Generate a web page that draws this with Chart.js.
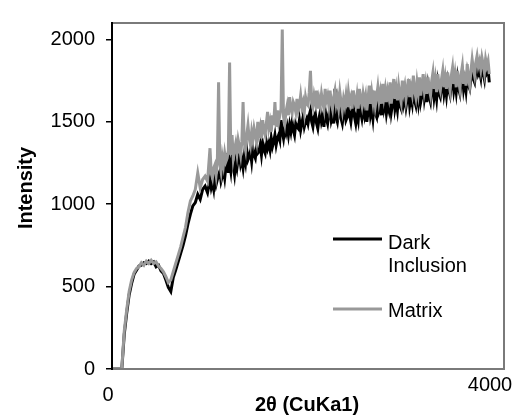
<!DOCTYPE html>
<html>
<head>
<meta charset="utf-8">
<script src="https://cdn.jsdelivr.net/npm/chart.js@4.4.1/dist/chart.umd.min.js"></script>
<style>
  html, body { margin: 0; padding: 0; background: #fff; }
  #wrap { width: 517px; height: 417px; position: relative; }
</style>
</head>
<body>
<div id="wrap"><canvas id="xrdChart"></canvas></div>
<script>
// === data (2θ units as on the original axis) ===
// steps of 25 up to 975, steps of 12.5 from 1000 where the trace gets dense
const twoTheta = [
  0, 25, 50, 75, 100, 125, 150, 175, 200, 225,
  250, 275, 300, 325, 350, 375, 400, 425, 450, 475,
  500, 525, 550, 575, 600, 625, 650, 675, 700, 725,
  750, 775, 800, 825, 850, 875, 900, 925, 950, 975,
  1000, 1012.5, 1025, 1037.5, 1050, 1062.5, 1075, 1087.5,
  1100, 1112.5, 1125, 1137.5, 1150, 1162.5, 1175, 1187.5,
  1200, 1212.5, 1225, 1237.5, 1250, 1262.5, 1275, 1287.5,
  1300, 1312.5, 1325, 1337.5, 1350, 1362.5, 1375, 1387.5,
  1400, 1412.5, 1425, 1437.5, 1450, 1462.5, 1475, 1487.5,
  1500, 1512.5, 1525, 1537.5, 1550, 1562.5, 1575, 1587.5,
  1600, 1612.5, 1625, 1637.5, 1650, 1662.5, 1675, 1687.5,
  1700, 1712.5, 1725, 1737.5, 1750, 1762.5, 1775, 1787.5,
  1800, 1812.5, 1825, 1837.5, 1850, 1862.5, 1875, 1887.5,
  1900, 1912.5, 1925, 1937.5, 1950, 1962.5, 1975, 1987.5,
  2000, 2012.5, 2025, 2037.5, 2050, 2062.5, 2075, 2087.5,
  2100, 2112.5, 2125, 2137.5, 2150, 2162.5, 2175, 2187.5,
  2200, 2212.5, 2225, 2237.5, 2250, 2262.5, 2275, 2287.5,
  2300, 2312.5, 2325, 2337.5, 2350, 2362.5, 2375, 2387.5,
  2400, 2412.5, 2425, 2437.5, 2450, 2462.5, 2475, 2487.5,
  2500, 2512.5, 2525, 2537.5, 2550, 2562.5, 2575, 2587.5,
  2600, 2612.5, 2625, 2637.5, 2650, 2662.5, 2675, 2687.5,
  2700, 2712.5, 2725, 2737.5, 2750, 2762.5, 2775, 2787.5,
  2800, 2812.5, 2825, 2837.5, 2850, 2862.5, 2875, 2887.5,
  2900, 2912.5, 2925, 2937.5, 2950, 2962.5, 2975, 2987.5,
  3000, 3012.5, 3025, 3037.5, 3050, 3062.5, 3075, 3087.5,
  3100, 3112.5, 3125, 3137.5, 3150, 3162.5, 3175, 3187.5,
  3200, 3212.5, 3225, 3237.5, 3250, 3262.5, 3275, 3287.5,
  3300, 3312.5, 3325, 3337.5, 3350, 3362.5, 3375, 3387.5,
  3400, 3412.5, 3425, 3437.5, 3450, 3462.5, 3475, 3487.5,
  3500, 3512.5, 3525, 3537.5, 3550, 3562.5, 3575, 3587.5,
  3600, 3612.5, 3625, 3637.5, 3650, 3662.5, 3675, 3687.5,
  3700, 3712.5, 3725, 3737.5, 3750, 3762.5, 3775, 3787.5,
  3800, 3812.5, 3825, 3837.5, 3850
];

const darkInclusion = [
  0, 0, 0, 0, 0, 210, 340, 450, 520, 575,
  600, 625, 630, 645, 640, 655, 640, 650, 620, 630,
  595, 580, 540, 495, 470, 555, 600, 650, 700, 750,
  810, 880, 940, 990, 1010, 1060, 1030, 1090, 1110, 1070,
  1150, 1100, 1130, 1090, 1170, 1120, 1150, 1180,
  1200, 1140, 1170, 1210, 1160, 1230, 1310, 1190,
  1250, 1200, 1290, 1230, 1180, 1260, 1220, 1280,
  1300, 1240, 1270, 1220, 1290, 1250, 1330, 1270,
  1290, 1320, 1260, 1340, 1300, 1280, 1340, 1310,
  1320, 1360, 1300, 1370, 1330, 1310, 1380, 1340,
  1370, 1330, 1400, 1350, 1380, 1420, 1360, 1400,
  1420, 1390, 1510, 1440, 1400, 1460, 1430, 1470,
  1420, 1480, 1440, 1500, 1450, 1420, 1490, 1470,
  1460, 1510, 1450, 1490, 1530, 1470, 1500, 1520,
  1490, 1540, 1570, 1500, 1470, 1530, 1550, 1490,
  1460, 1520, 1560, 1500, 1530, 1470, 1570, 1520,
  1490, 1550, 1590, 1510, 1540, 1490, 1700, 1530,
  1500, 1560, 1590, 1520, 1490, 1550, 1580, 1510,
  1530, 1600, 1540, 1500, 1560, 1590, 1530, 1490,
  1550, 1510, 1610, 1560, 1520, 1580, 1540, 1600,
  1500, 1560, 1630, 1540, 1580, 1520, 1610, 1550,
  1530, 1640, 1570, 1600, 1540, 1650, 1580, 1620,
  1550, 1600, 1570, 1660, 1560, 1610, 1690, 1580,
  1620, 1570, 1650, 1600, 1580, 1680, 1610, 1650,
  1590, 1640, 1690, 1600, 1650, 1610, 1720, 1630,
  1600, 1680, 1620, 1710, 1620, 1660, 1730, 1640,
  1690, 1620, 1710, 1650, 1620, 1690, 1760, 1650,
  1700, 1640, 1730, 1670, 1650, 1710, 1750, 1670,
  1720, 1660, 1740, 1690, 1660, 1730, 1770, 1690,
  1740, 1680, 1760, 1700, 1670, 1750, 1790, 1700,
  1750, 1690, 1780, 1720, 1700, 1770, 1820, 1760,
  1740, 1810, 1850, 1790, 1810, 1770, 1870, 1800,
  1760, 1840, 1800, 1820, 1740
];

const matrix = [
  0, 0, 0, 0, 5, 230, 360, 470, 540, 585,
  610, 620, 645, 630, 655, 640, 660, 640, 650, 625,
  610, 590, 560, 525, 540, 590, 640, 690, 740, 800,
  860, 950, 1020, 1050, 1090, 1190, 1100, 1150, 1170, 1140,
  1340, 1190, 1160, 1220, 1240, 1180, 1260, 1740,
  1250, 1200, 1290, 1240, 1310, 1260, 1280, 1330,
  1860, 1300, 1420, 1280, 1330, 1370, 1310, 1390,
  1350, 1300, 1380, 1620, 1370, 1330, 1420, 1480,
  1400, 1360, 1440, 1390, 1460, 1420, 1380, 1500,
  1430, 1470, 1400, 1510, 1450, 1420, 1490, 1560,
  1460, 1500, 1440, 1540, 1480, 1620, 1470, 1570,
  1500, 1540, 1580, 2060, 1530, 1490, 1560, 1600,
  1540, 1650, 1580, 1550, 1620, 1600, 1560, 1640,
  1570, 1600, 1660, 1590, 1620, 1560, 1650, 1610,
  1600, 1680, 1810, 1620, 1590, 1660, 1620, 1690,
  1580, 1640, 1600, 1670, 1620, 1580, 1700, 1630,
  1660, 1600, 1690, 1620, 1580, 1650, 1690, 1610,
  1650, 1590, 1680, 1620, 1570, 1640, 1600, 1660,
  1590, 1680, 1620, 1650, 1580, 1690, 1630, 1600,
  1660, 1580, 1700, 1640, 1600, 1670, 1620, 1660,
  1570, 1640, 1720, 1610, 1680, 1620, 1690, 1600,
  1650, 1710, 1630, 1680, 1610, 1730, 1650, 1700,
  1620, 1690, 1650, 1740, 1610, 1690, 1760, 1640,
  1700, 1630, 1720, 1660, 1620, 1750, 1680, 1720,
  1640, 1700, 1760, 1650, 1710, 1670, 1780, 1690,
  1650, 1740, 1680, 1770, 1660, 1720, 1790, 1690,
  1740, 1670, 1770, 1700, 1660, 1750, 1800, 1700,
  1760, 1680, 1790, 1720, 1690, 1760, 1810, 1710,
  1770, 1700, 1800, 1740, 1690, 1780, 1830, 1730,
  1790, 1710, 1810, 1750, 1700, 1790, 1840, 1730,
  1800, 1720, 1850, 1760, 1720, 1810, 1880, 1820,
  1780, 1860, 1900, 1840, 1870, 1820, 1890, 1850,
  1800, 1880, 1840, 1870, 1790
];

const yTicks = [0, 500, 1000, 1500, 2000];
const xTickLabels = ["0", "4000"];

const FONT = "'Liberation Sans', Arial, sans-serif";

function toPoints(values) {
  return values.map((v, i) => ({ x: twoTheta[i], y: v }));
}

// === axes frame, axis texts and legend ===
const overlay = {
  id: "overlay",
  afterDraw(chart) {
    const { ctx, chartArea: a } = chart;
    ctx.save();

    // frame: grey top/right/bottom, black left axis
    ctx.lineWidth = 2;
    ctx.strokeStyle = "#7a7a7a";
    ctx.beginPath();
    ctx.moveTo(a.left, a.top);
    ctx.lineTo(a.right, a.top);
    ctx.lineTo(a.right, a.bottom);
    ctx.lineTo(a.left, a.bottom);
    ctx.stroke();
    ctx.strokeStyle = "#000";
    ctx.beginPath();
    ctx.moveTo(a.left, a.top - 1);
    ctx.lineTo(a.left, a.bottom + 1);
    ctx.stroke();

    ctx.fillStyle = "#000";
    ctx.font = "20px " + FONT;
    ctx.textBaseline = "middle";
    ctx.textAlign = "center";
    ctx.fillText(xTickLabels[0], 108, 395);
    ctx.fillText(xTickLabels[1], 490, 385);

    ctx.font = "bold 20px " + FONT;
    ctx.fillText("2θ (CuKa1)", 307, 405);
    ctx.save();
    ctx.translate(26, 188);
    ctx.rotate(-Math.PI / 2);
    ctx.fillText("Intensity", 0, 0);
    ctx.restore();

    // legend
    ctx.lineWidth = 3;
    ctx.strokeStyle = "#000";
    ctx.beginPath(); ctx.moveTo(333, 239); ctx.lineTo(382, 239); ctx.stroke();
    ctx.strokeStyle = "#999";
    ctx.beginPath(); ctx.moveTo(333, 309); ctx.lineTo(382, 309); ctx.stroke();
    ctx.font = "20px " + FONT;
    ctx.textAlign = "left";
    ctx.fillText("Dark", 388, 243);
    ctx.fillText("Inclusion", 388, 266);
    ctx.fillText("Matrix", 388, 311);

    ctx.restore();
  }
};

const ctx = document.getElementById("xrdChart").getContext("2d");
const xrdChart = new Chart(ctx, {
  type: "line",
  data: {
    datasets: [
      {
        label: "Dark Inclusion",
        data: toPoints(darkInclusion),
        borderColor: "#000",
        borderWidth: 3,
        pointRadius: 0,
        tension: 0,
        order: 2
      },
      {
        label: "Matrix",
        data: toPoints(matrix),
        borderColor: "#999",
        borderWidth: 3,
        pointRadius: 0,
        tension: 0,
        order: 1
      }
    ]
  },
  options: {
    responsive: true,
    maintainAspectRatio: false,
    animation: false,
    layout: { padding: { top: 8, right: 13, bottom: 0, left: 0 } },
    plugins: {
      legend: { display: false },
      tooltip: { enabled: false }
    },
    scales: {
      x: {
        type: "linear",
        min: 0,
        max: 4000,
        ticks: { display: false },
        grid: { display: false },
        border: { display: false },
        afterFit: s => { s.height = 48; }
      },
      y: {
        min: 0,
        max: 2100,
        afterBuildTicks: s => { s.ticks = yTicks.map(v => ({ value: v })); },
        ticks: {
          color: "#000",
          padding: 11,
          font: { size: 20, family: FONT },
          callback: v => String(v)
        },
        grid: { drawOnChartArea: false, tickLength: 6, color: "#000", lineWidth: 1.5 },
        border: { display: false },
        afterFit: s => { s.width = 112; }
      }
    }
  },
  plugins: [overlay]
});
</script>
</body>
</html>
